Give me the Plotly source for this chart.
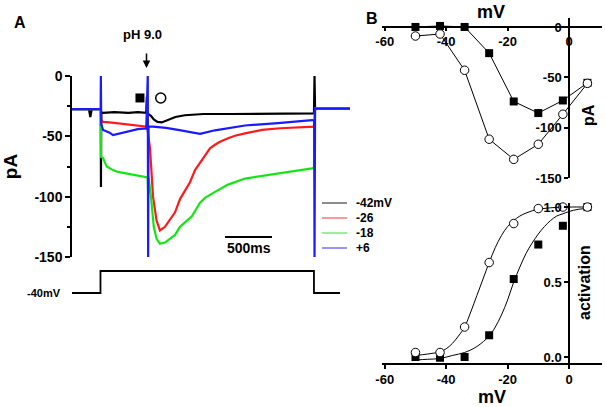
import plotly.graph_objects as go

W, H = 605, 407
def px(x): return x / W
def py(y): return 1 - y / H

# ---------------- Panel A data (time in ms, current in pA) ----------------
t_black = [0, 180, 195, 210, 306, 308, 311, 330, 450, 600, 700, 790, 796, 802, 840, 870, 910, 954,
           1000, 1100, 1200, 1400, 1700, 2000, 2300, 2574, 2580, 2586, 2800, 2960]
i_black = [-27.5, -27.5, -34, -27.5, -27.5, -92, -30, -30.5, -30, -30.5, -30, -30.5, -17, -31, -33, -36, -38, -38.5,
           -37, -34, -32.5, -31.5, -31.5, -31.5, -31.5, -31, 0, -27, -27, -27]

t_red = [0, 306, 310, 330, 400, 500, 600, 700, 800, 830, 862, 900, 936, 989, 1043, 1096, 1149, 1202, 1255,
         1309, 1362, 1415, 1468, 1521, 1574, 1660, 1734, 1840, 2021, 2213, 2426, 2574, 2586, 2800, 2960]
i_red = [-27.5, -27.5, -36, -38, -38.5, -39.5, -40, -41, -42, -60, -100, -120, -128, -125, -119, -113, -102, -95, -88,
         -78, -72, -65, -60, -57, -54.5, -51.6, -49.5, -47.5, -44.7, -43.3, -42.5, -42, -27, -27, -27]

t_green = [0, 306, 309, 330, 369, 436, 489, 600, 670, 795, 805, 810, 815, 840, 870, 900, 936, 989, 1096, 1149,
           1277, 1362, 1415, 1521, 1660, 1840, 2021, 2191, 2372, 2553, 2574, 2586, 2800, 2960]
i_green = [-27.5, -27.5, -67, -68, -75, -78, -79.5, -81, -82, -83.4, -84, -97, -84, -100, -125, -135, -139, -138,
           -131.7, -125, -116, -105, -101, -96, -90, -85, -83, -80.6, -79, -76.5, -76, -27, -27, -27]

t_blue = [0, 305, 307, 311, 330, 400, 436, 489, 596, 700, 790, 806, 810, 814, 862, 1000, 1128, 1273, 1362,
          1521, 1840, 2191, 2553, 2576, 2580, 2586, 2800, 2960]
i_blue = [-27.5, -27.5, 0, -40, -44.7, -47, -49, -48, -46, -44, -43.4, 0, -150, -42, -42, -43, -44.7, -47, -48,
          -45, -41, -39, -36.5, -37, -150, -27, -27, -27]

trace_names = ["-42mV", "-26", "-18", "+6"]
trace_colors = ["#000000", "#ff1a1a", "#14e614", "#1a1aff"]

# voltage protocol (schematic)
t_prot = [0, 303, 303, 2574, 2574, 2851]
v_prot = [-40, -40, 0, 0, -40, -40]

# symbols marking measurement points
mark_t = [723, 944]
mark_i = [-18.2, -18.2]

# ---------------- Panel B data ----------------
mv = [-50, -42, -34, -26, -18, -10, -2, 6]
peak_sq = [0, 1, 0, -26, -74, -85.5, -73, -55.5]
peak_circ = [-9, -7, -43, -111.5, -131.5, -116.5, -86.7, -56]

act_sq = [0.0, -0.005, 0.0, 0.145, 0.52, 0.75, 0.875, 1.0]
act_circ = [0.03, 0.03, 0.2, 0.63, 0.89, 0.99, 1.0, 1.0]

fit_mv = [-50, -46, -42, -40, -38, -36, -34, -32, -30, -28, -26, -24, -22, -20, -18, -16, -14, -12, -10, -6, 0, 6]
fit_circ = [0.01, 0.02, 0.035, 0.055, 0.09, 0.14, 0.2, 0.3, 0.41, 0.52, 0.63, 0.73, 0.81, 0.87, 0.91, 0.94,
            0.96, 0.975, 0.985, 0.995, 1.0, 1.0]
fit_mv2 = [-50, -46, -42, -38, -34, -30, -26, -24, -22, -20, -18, -16, -14, -12, -10, -8, -6, -4, -2, 0, 3, 6]
fit_sq = [-0.02, -0.015, -0.01, 0.01, 0.03, 0.07, 0.14, 0.2, 0.28, 0.38, 0.5, 0.6, 0.69, 0.76, 0.82, 0.87,
          0.91, 0.94, 0.955, 0.97, 0.985, 0.99]

FONT = "Liberation Sans, Arial, sans-serif"
fig = go.Figure()

# Panel A traces
for t, i, nm, c in zip([t_black, t_red, t_green, t_blue], [i_black, i_red, i_green, i_blue], trace_names, trace_colors):
    fig.add_trace(go.Scatter(x=t, y=i, mode="lines", name=nm, line=dict(color=c, width=2.2),
                             xaxis="x", yaxis="y", showlegend=False))

fig.add_trace(go.Scatter(x=[mark_t[0]], y=[mark_i[0]], mode="markers",
                         marker=dict(symbol="square", size=9, color="black"), xaxis="x", yaxis="y", showlegend=False))
fig.add_trace(go.Scatter(x=[mark_t[1]], y=[mark_i[1]], mode="markers",
                         marker=dict(symbol="circle", size=10, color="white", line=dict(color="black", width=1.5)),
                         xaxis="x", yaxis="y", showlegend=False))

fig.add_trace(go.Scatter(x=t_prot, y=v_prot, mode="lines", line=dict(color="black", width=1.8),
                         xaxis="x2", yaxis="y2", showlegend=False))

# Panel B top: I-V
fig.add_trace(go.Scatter(x=mv, y=peak_sq, mode="lines+markers", line=dict(color="black", width=1),
                         marker=dict(symbol="square", size=8, color="black"),
                         xaxis="x3", yaxis="y3", showlegend=False, cliponaxis=False))
fig.add_trace(go.Scatter(x=mv, y=peak_circ, mode="lines+markers", line=dict(color="black", width=1),
                         marker=dict(symbol="circle", size=8.5, color="white", line=dict(color="black", width=1)),
                         xaxis="x3", yaxis="y3", showlegend=False, cliponaxis=False))

# Panel B bottom: activation
fig.add_trace(go.Scatter(x=fit_mv2, y=fit_sq, mode="lines", line=dict(color="black", width=1, shape="spline"),
                         xaxis="x4", yaxis="y4", showlegend=False))
fig.add_trace(go.Scatter(x=fit_mv, y=fit_circ, mode="lines", line=dict(color="black", width=1, shape="spline"),
                         xaxis="x4", yaxis="y4", showlegend=False))
fig.add_trace(go.Scatter(x=mv, y=act_sq, mode="markers",
                         marker=dict(symbol="square", size=8, color="black"),
                         xaxis="x4", yaxis="y4", showlegend=False, cliponaxis=False))
fig.add_trace(go.Scatter(x=mv, y=act_circ, mode="markers",
                         marker=dict(symbol="circle", size=8.5, color="white", line=dict(color="black", width=1)),
                         xaxis="x4", yaxis="y4", showlegend=False, cliponaxis=False))

bold = dict(family=FONT, color="black", weight="bold")
def f(size): return dict(bold, size=size)

t_per_px = 500 / 47.0
t_range = [0, (350 - 72) * t_per_px]

def neg(vals, fmt="{:g}"):
    return [fmt.format(v) for v in vals]

axis_common = dict(showline=True, linecolor="black", linewidth=1.5, tickwidth=1.5, tickcolor="black",
                   showgrid=False, zeroline=False, automargin=False)

fig.update_layout(
    width=W, height=H, margin=dict(l=0, r=0, t=0, b=0, autoexpand=False), autosize=False,
    paper_bgcolor="white", plot_bgcolor="rgba(0,0,0,0)", showlegend=False,
    font=dict(family=FONT, color="black"),
    xaxis=dict(domain=[px(72), px(350)], range=t_range, visible=False, anchor="y", automargin=False),
    yaxis=dict(axis_common, domain=[py(257), py(76)], range=[-150, 0], anchor="x",
               ticks="outside", ticklen=5,
               tickvals=[0, -50, -100, -150], ticktext=neg([0, -50, -100, -150]), tickfont=f(14),
               minor=dict(tickvals=[-25, -75, -125], ticks="outside", ticklen=3, tickwidth=1.5, tickcolor="black"),
               title=dict(text="pA", font=f(19), standoff=12)),
    xaxis2=dict(domain=[px(72), px(350)], range=t_range, visible=False, anchor="y2", automargin=False),
    yaxis2=dict(domain=[py(300), py(265)], range=[-52.7, 10.9], visible=False, anchor="x2", automargin=False),
    xaxis3=dict(axis_common, domain=[px(382), px(602)], range=[-60.9, 10.75], anchor="free", position=py(27),
                side="bottom", ticks="outside", ticklen=3,
                tickvals=[-60, -40, -20, 0], ticktext=neg([-60, -40, -20, 0]), tickfont=f(13)),
    yaxis3=dict(axis_common, domain=[py(178), py(18)], range=[-150, 8.9], anchor="free", position=px(569),
                side="left", ticks="outside", ticklen=4,
                tickvals=[0, -50, -100, -150], ticktext=neg([0, -50, -100, -150]), tickfont=f(13)),
    xaxis4=dict(axis_common, domain=[px(382), px(602)], range=[-60.9, 10.75], anchor="y4", side="bottom",
                ticks="outside", ticklen=4,
                tickvals=[-60, -40, -20, 0], ticktext=neg([-60, -40, -20, 0]), tickfont=f(13),
                title=dict(text="mV", font=f(18), standoff=4)),
    yaxis4=dict(axis_common, domain=[py(363), py(203)], range=[-0.04, 1.027], anchor="free", position=px(569),
                side="left", ticks="outside", ticklen=4,
                tickvals=[0, 0.5, 1.0], ticktext=["0.0", "0.5", "1.0"], tickfont=f(13)),
)

shapes = []
annotations = []
# scale bar 500 ms
bar_t0 = (225 - 72) * t_per_px
shapes.append(dict(type="line", xref="x", yref="paper", x0=bar_t0, x1=bar_t0 + 500, y0=py(237), y1=py(237),
                   line=dict(color="black", width=2)))
annotations.append(dict(text="500ms", xref="x", yref="paper", x=bar_t0 + 250, y=py(248), showarrow=False,
                        font=f(14), xanchor="center", yanchor="middle"))
# manual legend
for k, (nm, c) in enumerate(zip(trace_names, trace_colors)):
    yy = 203 + 15 * k
    shapes.append(dict(type="line", xref="paper", yref="paper", x0=px(322), x1=px(347), y0=py(yy), y1=py(yy),
                       line=dict(color=c, width=1.2), opacity=0.75))
    annotations.append(dict(text=nm, xref="paper", yref="paper", x=px(354), y=py(yy), showarrow=False,
                            font=f(12), xanchor="left", yanchor="middle"))
# pH arrow + label
annotations.append(dict(text="", xref="x", yref="paper", x=(146.5 - 72) * t_per_px, y=py(68), ax=0, ay=-16,
                        showarrow=True, arrowhead=2, arrowsize=1, arrowwidth=1.5, arrowcolor="black"))
annotations.append(dict(text="pH 9.0", xref="x", yref="paper", x=(142.5 - 72) * t_per_px, y=py(34),
                        showarrow=False, font=f(13), xanchor="center", yanchor="middle"))
# holding potential label
annotations.append(dict(text="-40mV", xref="paper", yref="y2", x=px(63), y=-40, showarrow=False,
                        font=f(11), xanchor="right", yanchor="middle"))
# panel letters
annotations.append(dict(text="A", xref="paper", yref="paper", x=px(20), y=py(22), showarrow=False,
                        font=f(16), xanchor="center", yanchor="middle"))
annotations.append(dict(text="B", xref="paper", yref="paper", x=px(372), y=py(18), showarrow=False,
                        font=f(16), xanchor="center", yanchor="middle"))
# axis titles of panel B drawn at their reference positions
annotations.append(dict(text="mV", xref="paper", yref="paper", x=px(491), y=py(12), showarrow=False,
                        font=f(18), xanchor="center", yanchor="middle"))
annotations.append(dict(text="pA", xref="paper", yref="paper", x=px(588), y=py(115), showarrow=False,
                        font=f(16), textangle=-90, xanchor="center", yanchor="middle"))
annotations.append(dict(text="activation", xref="paper", yref="paper", x=px(584), y=py(283), showarrow=False,
                        font=f(16), textangle=-90, xanchor="center", yanchor="middle"))

fig.update_layout(shapes=shapes, annotations=annotations)
fig.write_html("out.html", config={"displayModeBar": False},
               post_script="document.body.style.margin='0';document.body.style.overflow='hidden';")
